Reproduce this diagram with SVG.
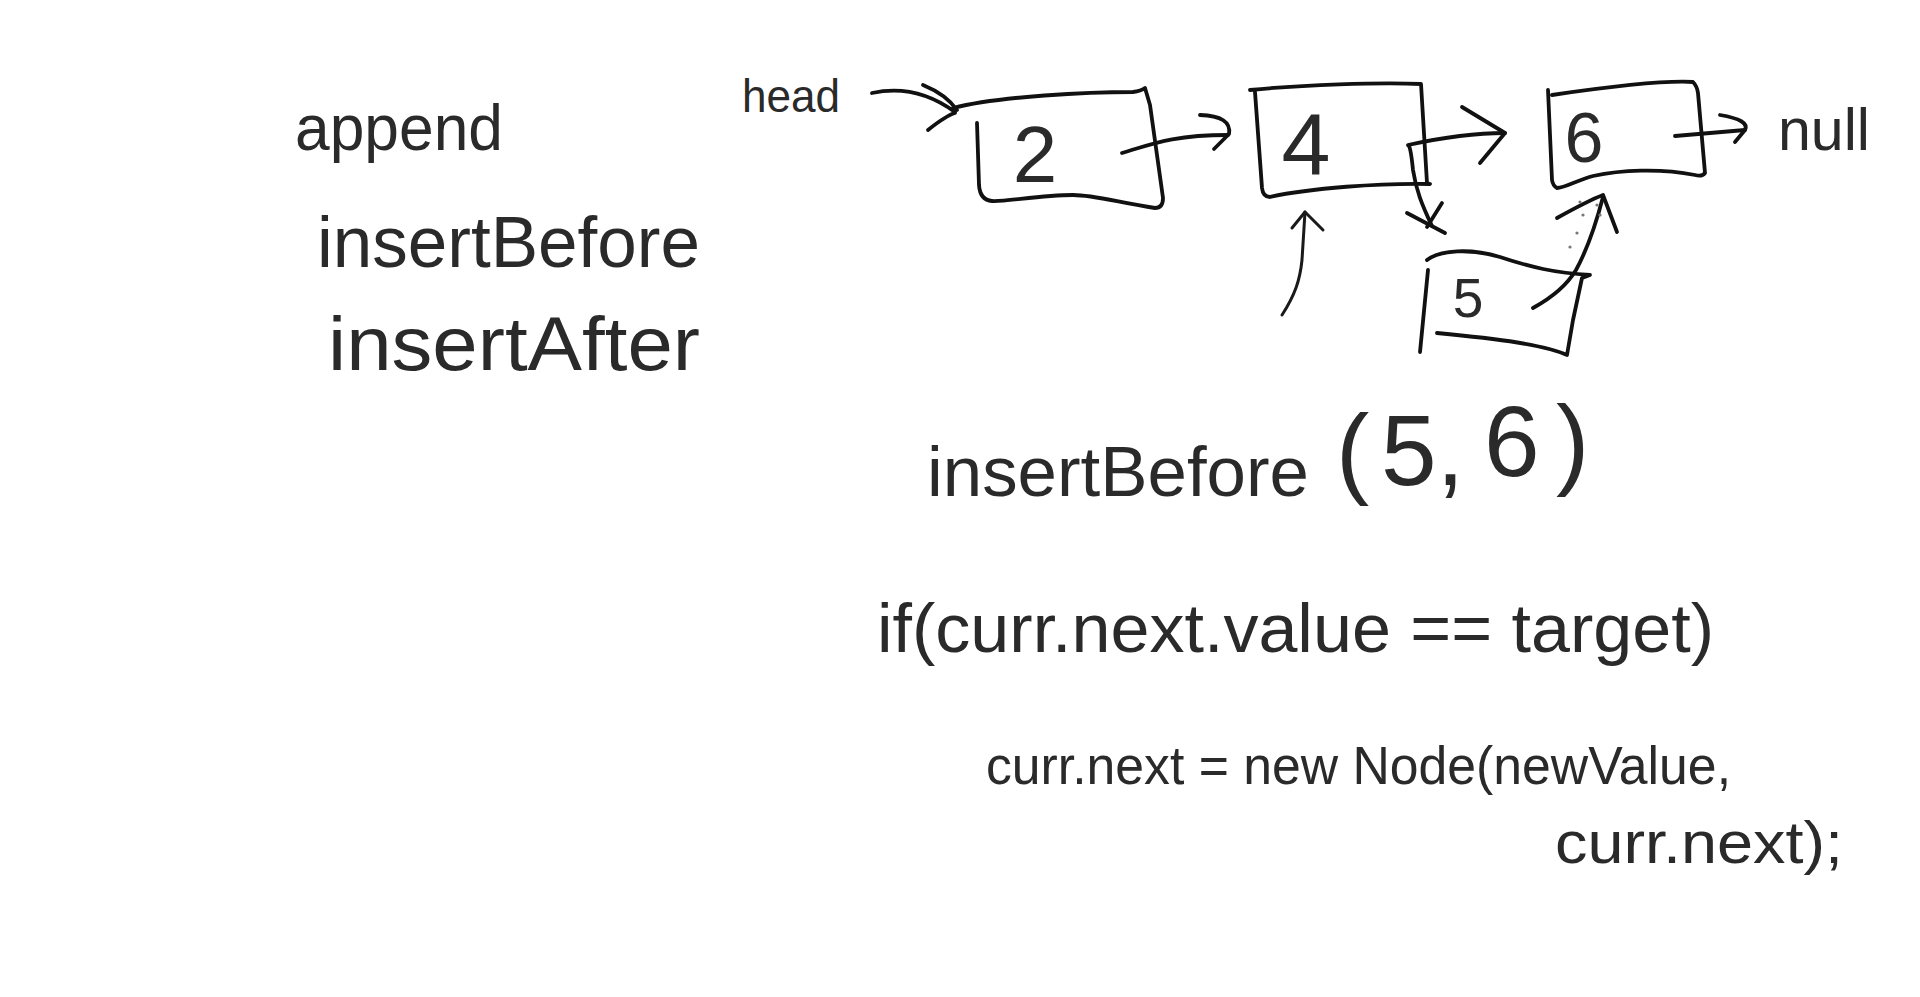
<svg xmlns="http://www.w3.org/2000/svg" width="1920" height="997" viewBox="0 0 1920 997">
<defs>
<style>
.t{font-family:"Liberation Sans",Arial,sans-serif;fill:#2a2a2a;}
.box{fill:none;stroke:#111;stroke-width:3.8;stroke-linecap:round;stroke-linejoin:round;}
.ln{fill:none;stroke:#1a1a1a;stroke-width:3;stroke-linecap:round;stroke-linejoin:round;}
.dot{fill:#777;}
</style>
</defs>
<rect width="1920" height="997" fill="#ffffff"/>

<g id="method-list">
<text class="t" x="295" y="150" font-size="64" textLength="208" lengthAdjust="spacingAndGlyphs">append</text>
<text class="t" x="317" y="267" font-size="72" textLength="383" lengthAdjust="spacingAndGlyphs">insertBefore</text>
<text class="t" x="328" y="370" font-size="76" textLength="372" lengthAdjust="spacingAndGlyphs">insertAfter</text>
</g>

<g id="head-label">
<text class="t" x="742" y="112" font-size="46" textLength="98" lengthAdjust="spacingAndGlyphs">head</text>
</g>

<g id="node-2">
<path class="box" d="M953,108 C1000,96 1090,92 1133,92 Q1141,91 1145,88 L1150,105 L1163,198 Q1163,208 1155,208 C1120,203 1095,195 1073,195 C1040,195 1005,202 992,201 Q980,200 979,185 L977,123"/>
<text class="t" x="1035" y="182" font-size="80" text-anchor="middle">2</text>
</g>

<g id="node-4">
<path class="box" d="M1250,90 C1300,85 1380,82 1421,84 L1427,183 L1430,184 C1380,183 1310,188 1270,197 Q1263,197 1262,188 L1255,92"/>
<text class="t" x="1306" y="175" font-size="88" text-anchor="middle">4</text>
</g>

<g id="node-6">
<path class="box" d="M1552,95 C1600,88 1660,80 1693,82 Q1697,86 1698,93 L1705,173 Q1702,177 1695,175 C1660,168 1620,170 1593,176 C1575,181 1565,188 1557,188 Q1553,186 1552,180 L1548,90"/>
<text class="t" x="1584" y="162" font-size="70" text-anchor="middle">6</text>
</g>

<g id="null-label">
<text class="t" x="1778" y="150" font-size="60" textLength="92" lengthAdjust="spacingAndGlyphs">null</text>
</g>

<g id="node-5">
<path class="box" d="M1427,260 C1440,250 1470,248 1500,257 C1530,267 1555,273 1590,275 L1582,278 L1573,320 L1567,355 C1545,345 1500,339 1437,333"/>
<path class="box" d="M1428,270 L1420,352"/>
<text class="t" x="1468" y="317" font-size="55" text-anchor="middle">5</text>
</g>

<g id="connectors">
<!-- head -> 2 -->
<path class="box" d="M872,93 C895,88 925,90 955,112"/>
<path class="box" d="M923,85 C940,92 950,100 957,110 M928,130 C938,122 948,115 955,113"/>
<!-- 2 -> 4 -->
<path class="box" d="M1122,153 C1150,145 1170,135 1228,135"/>
<path class="box" d="M1200,115 Q1232,116 1229,134 L1214,149"/>
<!-- 4 -> 6 -->
<path class="box" d="M1408,145 C1440,138 1470,133 1505,133"/>
<path class="box" d="M1462,107 L1505,133 L1480,163"/>
<!-- 4 -> 5 -->
<path class="box" d="M1409,146 Q1411,150 1413,170 C1416,190 1422,205 1432,226"/>
<path class="box" d="M1407,213 L1445,233 M1442,203 L1427,227"/>
<!-- 6 -> null -->
<path class="box" d="M1675,136 L1745,130"/>
<path class="box" d="M1720,115 Q1750,120 1745,130 L1735,142"/>
<!-- 5 -> 6 -->
<path class="box" d="M1533,308 C1553,297 1567,285 1576,270 C1588,248 1597,220 1603,197"/>
<path class="box" d="M1557,218 C1575,208 1590,200 1603,195 L1617,232"/>
<circle class="dot" cx="1570" cy="247" r="1.6"/>
<circle class="dot" cx="1577" cy="233" r="1.6"/>
<circle class="dot" cx="1583" cy="215" r="1.6"/>
<circle class="dot" cx="1580" cy="202" r="1.6"/>
<circle class="dot" cx="1597" cy="205" r="1.6"/>
<circle class="dot" cx="1600" cy="215" r="1.6"/>
<!-- pointer up to 4 -->
<path class="ln" d="M1282,315 C1295,295 1300,280 1302,260 L1305,212"/>
<path class="ln" d="M1292,228 L1305,212 L1323,230"/>
</g>

<g id="code">
<text class="t" y="496" font-size="70"><tspan x="927" textLength="382" lengthAdjust="spacingAndGlyphs">insertBefore</tspan><tspan x="1336" y="485" font-size="100">(</tspan><tspan x="1381" y="485" font-size="100">5,</tspan><tspan x="1484" y="476" font-size="100">6</tspan><tspan x="1556" y="476" font-size="100">)</tspan></text>
<text class="t" x="877" y="652" font-size="68" textLength="837" lengthAdjust="spacingAndGlyphs">if(curr.next.value == target)</text>
<text class="t" x="986" y="784" font-size="53" textLength="745" lengthAdjust="spacingAndGlyphs">curr.next = new Node(newValue,</text>
<text class="t" x="1555" y="863" font-size="60" textLength="288" lengthAdjust="spacingAndGlyphs">curr.next);</text>
</g>
</svg>
